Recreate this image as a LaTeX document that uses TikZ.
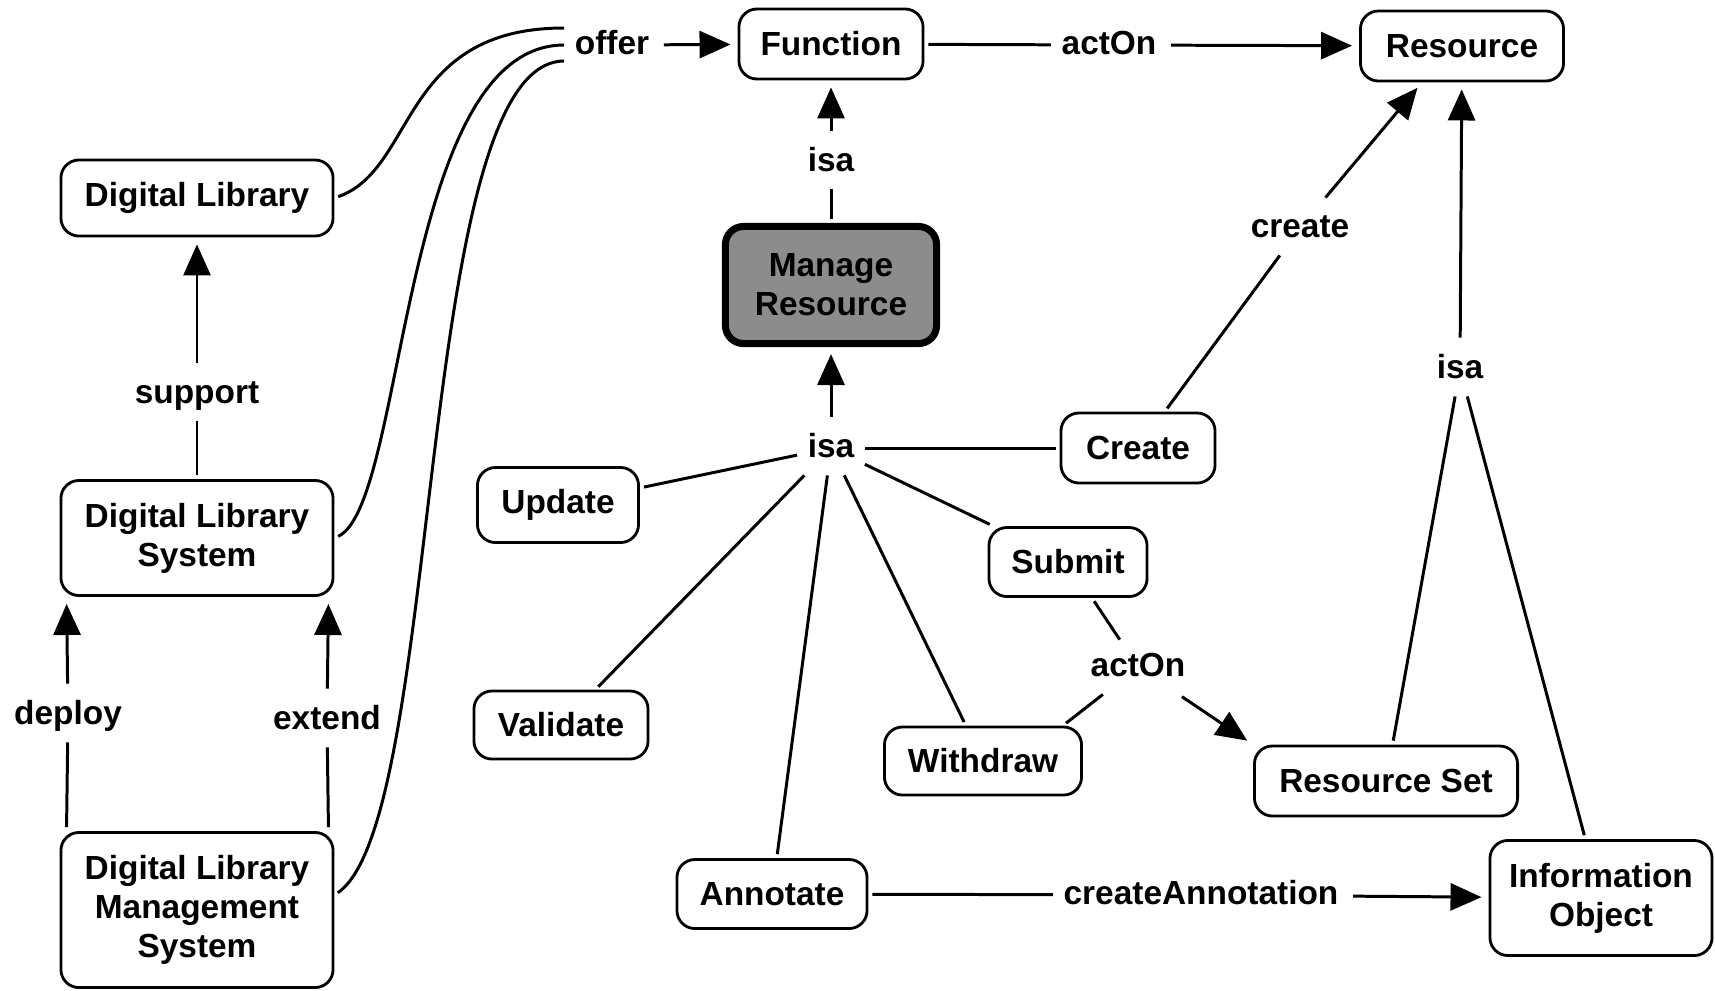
\documentclass[tikz,border=0pt]{standalone}
\usepackage{fontspec}
\setmainfont{Liberation Sans}
\usepackage{tikz}
\definecolor{mgrgray}{HTML}{8C8C8C}
\usetikzlibrary{arrows.meta,positioning}

\begin{document}
\begin{tikzpicture}[x=0.01cm, y=-0.01cm,
		every node/.style={font=\fontsize{9.5pt}{11.1pt}\selectfont\bfseries},
		concept/.style={draw, line width=0.8pt, rounded corners=1.8mm, align=center, inner sep=0pt},
		lbl/.style={inner sep=1mm, text height=0.75em, text depth=0.2em},
		link/.style={line width=0.85pt, shorten <=0.4mm},
		arr/.style={link, -{Triangle[length=3.1mm, width=2.7mm]}, shorten >=0.7mm}]
		\useasboundingbox (0,0) rectangle (1715,990);

		\node[concept, minimum width=1.84cm, minimum height=0.7cm] (func) at (831,44) {Function};
		\node[concept, minimum width=2.03cm, minimum height=0.7cm] (res) at (1462,46) {Resource};
		\node[concept, minimum width=2.72cm, minimum height=0.76cm] (dl) at (197,198) {Digital Library};
		\node[concept, minimum width=2.72cm, minimum height=1.15cm] (dls) at (197,538) {Digital Library\\System};
		\node[concept, minimum width=2.72cm, minimum height=1.55cm] (dlms) at (197,910) {Digital Library\\Management\\System};
		\node[concept, line width=2pt, fill=mgrgray, minimum width=2.11cm, minimum height=1.17cm] (mgr) at (831,285) {Manage\\Resource};
		\node[concept, minimum width=1.54cm, minimum height=0.7cm] (cre) at (1138,448) {Create};
		\node[concept, minimum width=1.61cm, minimum height=0.75cm] (upd) at (558,505) {Update};
		\node[concept, minimum width=1.58cm, minimum height=0.69cm] (sub) at (1068,562) {Submit};
		\node[concept, minimum width=1.74cm, minimum height=0.68cm] (val) at (561,725) {Validate};
		\node[concept, minimum width=1.97cm, minimum height=0.68cm] (wdr) at (983,761) {Withdraw};
		\node[concept, minimum width=2.63cm, minimum height=0.7cm] (rset) at (1386,781) {Resource Set};
		\node[concept, minimum width=1.90cm, minimum height=0.69cm] (ann) at (772,894) {Annotate};
		\node[concept, minimum width=2.22cm, minimum height=1.15cm] (iobj) at (1601,898) {Information\\Object};

		\node[lbl] (offer) at (612,45) {offer};
		\node[lbl] (acton1) at (1109,45) {actOn};
		\node[lbl] (isa1) at (831,162) {isa};
		\node[lbl] (support) at (197,394) {support};
		\node[lbl] (deploy) at (68,715) {deploy};
		\node[lbl] (extend) at (327,720) {extend};
		\node[lbl] (isa2) at (831,448) {isa};
		\node[lbl] (create) at (1300,228) {create};
		\node[lbl] (isa3) at (1460,369) {isa};
		\node[lbl] (acton2) at (1138,667) {actOn};
		\node[lbl] (createann) at (1201,895) {createAnnotation};

		\draw[link] (dl.east) .. controls +(82,-29) and +(-165,0) .. ([yshift=0.17cm]offer.west); % offer
		\draw[link] (dls.east) .. controls +(72,-33) and +(-165,0) .. (offer.west); % offer
		\draw[link] ([yshift=0.15cm]dlms.east) .. controls +(110,-75) and +(-150,0) .. ([yshift=-0.16cm]offer.west); % offer
		\draw[arr] (offer) -- (func);

		\draw[link] (func) -- (acton1);
		\draw[arr] (acton1) -- (res);
		\draw[link] (mgr) -- (isa1);
		\draw[arr] (isa1) -- (func);

		\draw[arr] (isa2) -- (mgr);
		\draw[link] (cre) -- (isa2);
		\draw[link] (upd) -- (isa2);
		\draw[link] (val) -- (isa2);
		\draw[link] (ann) -- (isa2);
		\draw[link] (wdr) -- (isa2);
		\draw[link] (sub) -- (isa2);

		\draw[link] (cre) -- (create);
		\draw[arr] (create) -- ([xshift=-0.4cm]res.south);
		\draw[link] (rset) -- (isa3);
		\draw[link] (iobj) -- (isa3);
		\draw[arr] (isa3) -- (res);

		\draw[link] (sub) -- (acton2);
		\draw[link] ([xshift=-0.2cm]wdr.north east) -- (acton2);
		\draw[arr] (acton2) -- (rset.north west);
		\draw[link] (ann) -- (createann);
		\draw[arr] (createann) -- (iobj);

		\draw[link] (dls) -- (support);
		\draw[arr] (support) -- (dl);
		\draw[link] ([xshift=0.07cm]dlms.north west) -- (deploy);
		\draw[arr] (deploy) -- ([xshift=0.07cm]dls.south west);
		\draw[link] ([xshift=-0.06cm]dlms.north east) -- (extend);
		\draw[arr] (extend) -- ([xshift=-0.06cm]dls.south east);
	\end{tikzpicture}
\end{document}
